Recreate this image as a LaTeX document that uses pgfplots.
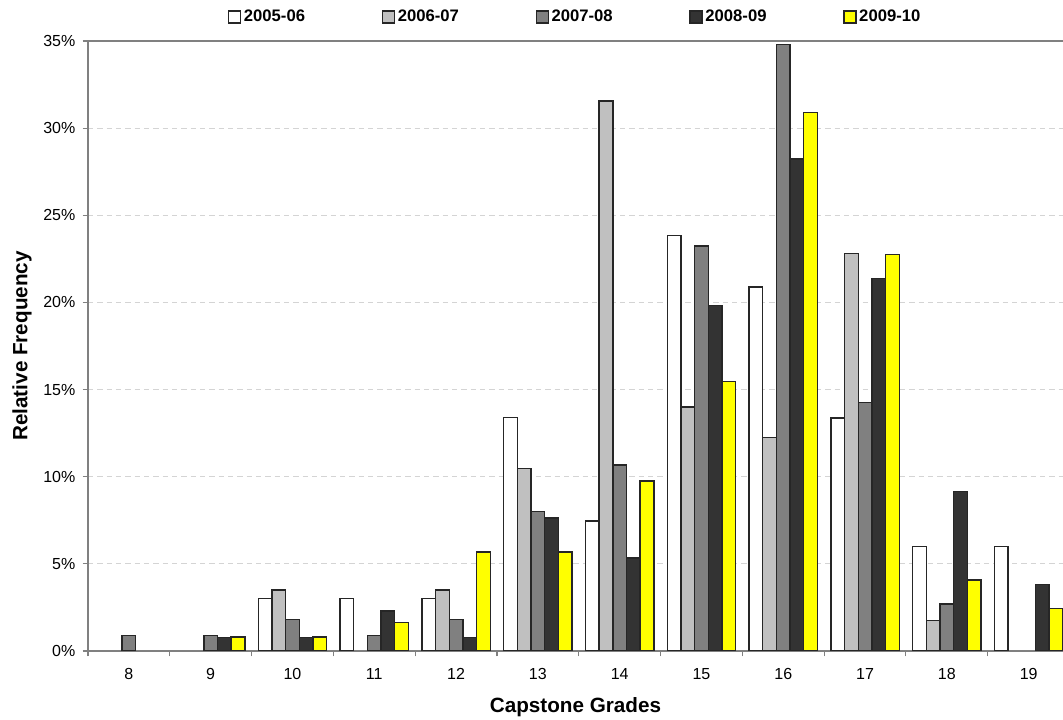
\documentclass[border=0pt]{standalone}
\usepackage{fontspec}
\setmainfont{Liberation Sans}
\usepackage{pgfplots}
\pgfplotsset{compat=1.18}
\definecolor{cA}{HTML}{FFFFFF}
\definecolor{cB}{HTML}{C0C0C0}
\definecolor{cC}{HTML}{808080}
\definecolor{cD}{HTML}{333333}
\definecolor{cE}{HTML}{FFFF00}
\definecolor{axgray}{HTML}{808080}
\definecolor{gridgray}{HTML}{D4D4D4}
\begin{document}
\begin{tikzpicture}
\begin{axis}[
  name=ax,
  scale only axis,
  width=731.25pt, height=457.5pt,
  xmin=-0.5, xmax=11.42,
  ymin=0, ymax=35,
  axis x line*=bottom, axis y line*=left,
  axis line style={-, draw=axgray, line width=0.8pt},
  xtick={0,1,2,3,4,5,6,7,8,9,10,11},
  xticklabels={8,9,10,11,12,13,14,15,16,17,18,19},
  minor xtick={-0.5,0.5,1.5,2.5,3.5,4.5,5.5,6.5,7.5,8.5,9.5,10.5},
  ytick={0,5,10,15,20,25,30,35},
  yticklabels={0\%,5\%,10\%,15\%,20\%,25\%,30\%,35\%},
  minor ytick={0,5,10,15,20,25,30,35},
  major tick length=0pt, minor tick length=4pt,
  tick align=outside,
  minor tick style={draw=axgray, line width=0.8pt},
  tick label style={font=\fontsize{12}{14}\selectfont, text=black},
  yticklabel style={xshift=-6pt},
  xticklabel style={yshift=-9.5pt},
  ymajorgrids,
  major grid style={draw=gridgray, dash pattern=on 4pt off 3pt, line width=0.7pt},
  ylabel={Relative Frequency},
  xlabel={Capstone Grades},
  label style={font=\bfseries\fontsize{15.5}{18}\selectfont},
  ylabel style={at={([xshift=-49.5pt]axis description cs:0,0.5)}, anchor=center},
  xlabel style={at={([yshift=-41.8pt]axis description cs:0.5,0)}, anchor=center},
  ybar=0pt, bar width=0.167,
  every axis plot/.append style={draw=black!85, line width=1.05pt},
  legend image code/.code={\draw[#1, line width=1pt] (0pt,-4.5pt) rectangle (9pt,4.5pt);},
  legend style={at={(0.5,1)}, anchor=center, yshift=18pt, draw=none, fill=none,
    legend columns=-1, font=\bfseries\fontsize{12.5}{14}\selectfont,
    /tikz/every even column/.append style={column sep=55.5pt}},
]
\addplot[fill=cA, bar shift=-0.334] coordinates {(2,3.0) (3,3.0) (4,3.0) (5,13.4) (6,7.46) (7,23.85) (8,20.88) (9,13.38) (10,6.0) (11,6.0)};
\addplot[fill=cB, bar shift=-0.167] coordinates {(2,3.5) (4,3.5) (5,10.48) (6,31.55) (7,14.0) (8,12.26) (9,22.8) (10,1.75)};
\addplot[fill=cC, bar shift=0] coordinates {(0,0.9) (1,0.9) (2,1.8) (3,0.9) (4,1.8) (5,8.02) (6,10.67) (7,23.23) (8,34.8) (9,14.25) (10,2.7)};
\addplot[fill=cD, bar shift=0.167] coordinates {(1,0.76) (2,0.76) (3,2.29) (4,0.76) (5,7.63) (6,5.34) (7,19.84) (8,28.24) (9,21.37) (10,9.16) (11,3.82)};
\addplot[fill=cE, bar shift=0.334] coordinates {(1,0.81) (2,0.81) (3,1.63) (4,5.69) (5,5.69) (6,9.76) (7,15.45) (8,30.89) (9,22.76) (10,4.07) (11,2.44)};
\legend{2005-06,2006-07,2007-08,2008-09,2009-10}
\coordinate (SW) at (rel axis cs:0,0);
\coordinate (NW) at (rel axis cs:0,1);
\coordinate (NE) at (rel axis cs:1,1);
\end{axis}
\draw[axgray, line width=0.8pt] (NW) -- (NE);
\pgfresetboundingbox
\path[use as bounding box] ([shift={(-66pt,-51.5pt)}]SW) rectangle ([shift={(0pt,30.75pt)}]NE);
\end{tikzpicture}
\end{document}
